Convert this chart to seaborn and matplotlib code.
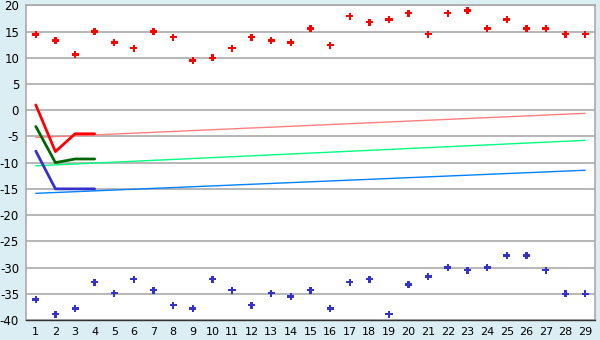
import matplotlib
matplotlib.use("Agg")
import matplotlib.pyplot as plt
import seaborn as sns
import pandas as pd

days = list(range(1, 30))
red_points = [14.4, 13.3, 10.6, 15.0, 12.9, 11.8, 15.0, 13.9, 9.5, 10.0,
              11.8, 13.9, 13.3, 12.9, 15.6, 12.4, 17.9, 16.8, 17.3, 18.5,
              14.5, 18.5, 19.0, 15.6, 17.3, 15.6, 15.6, 14.5, 14.5]
blue_points = [-36.1, -38.9, -37.8, -32.8, -34.9, -32.2, -34.3, -37.2, -37.8, -32.2,
               -34.3, -37.2, -34.9, -35.5, -34.3, -37.8, -32.8, -32.2, -38.9, -33.2,
               -31.7, -30.0, -30.5, -30.0, -27.7, -27.7, -30.5, -35.0, -35.0]

short_x = [1, 2, 3, 4]
red_line = [1.0, -7.9, -4.5, -4.5]
green_line = [-3.1, -10.0, -9.3, -9.3]
blue_line = [-7.8, -15.0, -15.0, -15.0]

trend_x = [1, 29]
pink_trend = [-5.2, -0.6]
lgreen_trend = [-10.6, -5.75]
lblue_trend = [-15.85, -11.45]

y_ticks = list(range(-40, 21, 5))

sns.set_style("white")
plt.rcParams['font.family'] = ['DejaVu Sans']
plt.rcParams['axes.unicode_minus'] = False

fig = plt.figure(figsize=(6, 3.4), dpi=100)
fig.patch.set_facecolor('#DAEEF4')
ax = fig.add_axes([26 / 600, 20 / 340, 569 / 600, 314.7 / 340])
ax.set_facecolor('white')

for yv in y_ticks:
    ax.axhline(yv, color='#AAAAAA', lw=1.2, zorder=0)

for yvals, col in [(pink_trend, '#FF8080'), (lgreen_trend, '#00FF80'), (lblue_trend, '#0080FF')]:
    sns.lineplot(x=trend_x, y=yvals, ax=ax, color=col, lw=1.0, zorder=2)

for yvals, col in [(red_line, '#FF0000'), (green_line, '#006600'), (blue_line, '#3333CC')]:
    sns.lineplot(x=short_x, y=yvals, ax=ax, color=col, lw=2.0, zorder=3)

sns.scatterplot(x=days, y=red_points, ax=ax, color='#FF0000', marker='P', s=26,
                edgecolor='none', zorder=4)
sns.scatterplot(x=days, y=blue_points, ax=ax, color='#3333CC', marker='P', s=26,
                edgecolor='none', zorder=4)

ax.set_xlim(0.5, 29.5)
ax.set_ylim(-40, 20)
ax.set_xticks(days)
ax.set_yticks(y_ticks)
ax.tick_params(axis='x', direction='out', length=4, width=1, color='black',
               labelsize=8, pad=1)
ax.tick_params(axis='y', direction='out', length=4, width=1.2, color='#AAAAAA',
               labelsize=8.5, pad=1)
for lab in ax.get_xticklabels() + ax.get_yticklabels():
    lab.set_color('black')

for side in ['left', 'right', 'top']:
    ax.spines[side].set_color('#AAAAAA')
    ax.spines[side].set_linewidth(1.2)
ax.spines['bottom'].set_color('#333333')
ax.spines['bottom'].set_linewidth(1.0)
ax.set_xlabel('')
ax.set_ylabel('')

fig.savefig('out.png', dpi=100, facecolor=fig.get_facecolor())
